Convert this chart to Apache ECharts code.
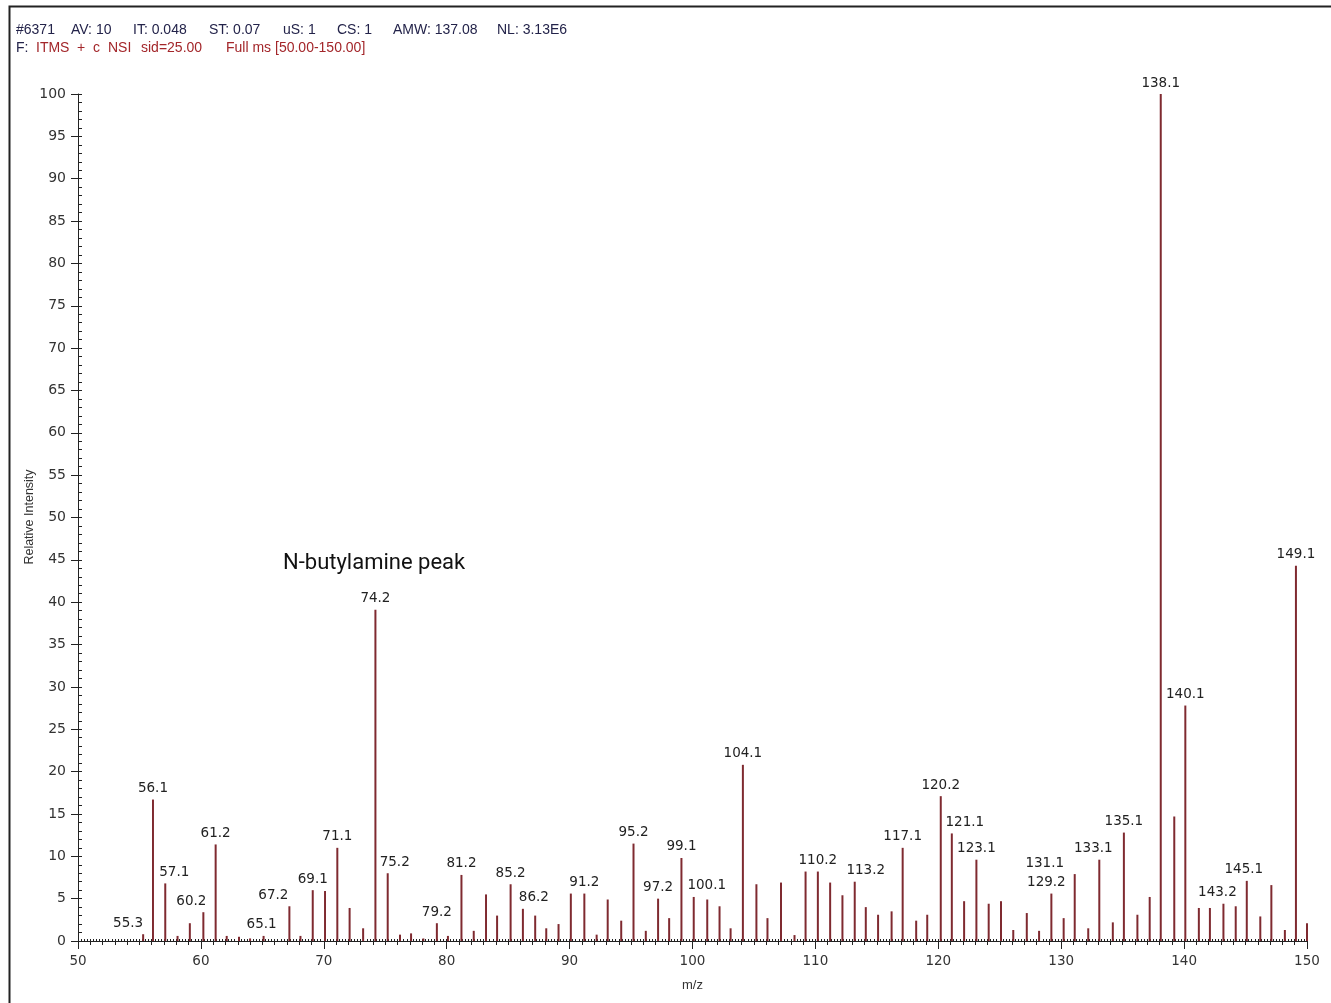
<!DOCTYPE html>
<html>
<head>
<meta charset="utf-8">
<script src="https://cdn.jsdelivr.net/npm/echarts@6/dist/echarts.min.js"></script>
<style>
html,body{margin:0;padding:0;background:#fff;}
#chart{width:1331px;height:1003px;}
</style>
</head>
<body>
<div id="chart"></div>
<script>
// ---- data ----
const mzValues = [
  55.3, 56.1, 57.1, 58.1, 59.1, 60.2, 61.2, 62.1, 63.1, 64.0, 65.1, 67.2, 68.1, 69.1, 70.1, 71.1, 72.1, 73.2, 74.2, 75.2,
  76.2, 77.1, 78.1, 79.2, 80.1, 81.2, 82.2, 83.2, 84.1, 85.2, 86.2, 87.2, 88.1, 89.1, 90.1, 91.2, 92.2, 93.1, 94.2, 95.2,
  96.2, 97.2, 98.1, 99.1, 100.1, 101.2, 102.2, 103.1, 104.1, 105.2, 106.1, 107.2, 108.3, 109.2, 110.2, 111.2, 112.2, 113.2, 114.1, 115.1,
  116.2, 117.1, 118.2, 119.1, 120.2, 121.1, 122.1, 123.1, 124.1, 125.1, 126.1, 127.2, 128.2, 129.2, 130.2, 131.1, 132.2, 133.1, 134.2, 135.1,
  136.2, 137.2, 138.1, 139.2, 140.1, 141.2, 142.1, 143.2, 144.2, 145.1, 146.2, 147.1, 148.2, 149.1, 150.0
];
const intensities = [
  0.8, 16.7, 6.8, 0.6, 2.1, 3.4, 11.4, 0.6, 0.5, 0.3, 0.6, 4.1, 0.6, 6.0, 5.9, 11.0, 3.9, 1.5, 39.1, 8.0,
  0.75, 0.9, 0.3, 2.1, 0.6, 7.8, 1.2, 5.5, 3.0, 6.7, 3.8, 3.0, 1.5, 2.0, 5.6, 5.6, 0.75, 4.9, 2.4, 11.5,
  1.2, 5.0, 2.7, 9.8, 5.2, 4.9, 4.1, 1.5, 20.8, 6.7, 2.7, 6.9, 0.7, 8.2, 8.2, 6.9, 5.4, 7.0, 4.0, 3.1,
  3.5, 11.0, 2.4, 3.1, 17.1, 12.7, 4.7, 9.6, 4.4, 4.7, 1.3, 3.3, 1.2, 5.6, 2.7, 7.9, 1.5, 9.6, 2.2, 12.8,
  3.1, 5.2, 100, 14.7, 27.8, 3.9, 3.9, 4.4, 4.1, 7.1, 2.9, 6.6, 1.3, 44.3, 2.1
];
const labeledPeaks = [
  55.3, 56.1, 57.1, 60.2, 61.2, 65.1, 67.2, 69.1, 71.1, 74.2, 75.2, 79.2, 81.2, 85.2, 86.2, 91.2, 95.2, 97.2, 99.1, 100.1,
  104.1, 110.2, 113.2, 117.1, 120.2, 121.1, 123.1, 129.2, 131.1, 133.1, 135.1, 138.1, 140.1, 143.2, 145.1, 149.1
];
const xTickLabels = [50, 60, 70, 80, 90, 100, 110, 120, 130, 140, 150];
const yTickLabels = [0, 5, 10, 15, 20, 25, 30, 35, 40, 45, 50, 55, 60, 65, 70, 75, 80, 85, 90, 95, 100];
const headerFields = ['#6371', 'AV: 10', 'IT: 0.048', 'ST: 0.07', 'uS: 1', 'CS: 1', 'AMW: 137.08', 'NL: 3.13E6'];
const filterPrefix = 'F:';
const filterWords = ['ITMS', '+', 'c', 'NSI', 'sid=25.00', 'Full ms [50.00-150.00]'];
const annotationText = 'N-butylamine peak';
const xAxisName = 'm/z';
const yAxisName = 'Relative Intensity';

// ---- label nudges (styling only, px) ----
const labelNudge = {
  '55.3': [-15, 0], '57.1': [9, 0], '60.2': [-12, 0], '65.1': [-2, 0], '67.2': [-16, 0],
  '75.2': [7, 0], '86.2': [11, 0], '100.1': [13, 0], '113.2': [11, 0], '121.1': [13, 0],
  '129.2': [-5, 0], '131.1': [-30, 0], '133.1': [-6, 0], '143.2': [-6, 0], '145.1': [-3, 0]
};

const barColor = '#7f2a30';
const axisColor = '#222';
const textColor = '#333';
const tickFont = 'DejaVu Sans';
const headFont = '14px "Liberation Sans", Arial, sans-serif';

const seriesData = mzValues.map(function (mz, i) {
  const item = { value: [mz, intensities[i]] };
  if (labeledPeaks.indexOf(mz) >= 0) {
    const key = mz.toFixed(1);
    item.label = {
      show: true,
      formatter: key,
      offset: labelNudge[key] || [0, 0]
    };
  }
  return item;
});

// layout positions for header pieces (px)
const headerX = [16, 71, 133, 209, 283, 337, 393, 497];
const headerGraphics = headerFields.map(function (t, i) {
  return {
    type: 'text', left: headerX[i], top: 23,
    style: { text: t, fill: '#23234a', font: headFont }
  };
});
const filterX = [36, 77, 93, 108, 141, 226];
const filterGraphics = [
  { type: 'text', left: 16, top: 41, style: { text: filterPrefix, fill: '#23234a', font: headFont } }
].concat(filterWords.map(function (w, i) {
  return { type: 'text', left: filterX[i], top: 41, style: { text: w, fill: '#a3262a', font: headFont } };
}));

const chart = echarts.init(document.getElementById('chart'), null, { renderer: 'canvas' });
chart.setOption({
  animation: false,
  backgroundColor: '#fff',
  grid: { left: 78, right: 24, top: 94, bottom: 62, containLabel: false },
  xAxis: [
    {
      type: 'value', min: 50, max: 150, interval: 10,
      axisLine: { show: true, lineStyle: { color: axisColor, width: 1 } },
      axisTick: { show: true, length: 8, lineStyle: { color: axisColor } },
      axisLabel: {
        margin: 13, fontSize: 13.5, fontFamily: tickFont, color: textColor,
        formatter: function (v) { return xTickLabels.indexOf(v) >= 0 ? String(v) : ''; }
      },
      splitLine: { show: false },
      name: xAxisName, nameLocation: 'middle', nameGap: 38,
      nameTextStyle: { fontSize: 13, fontFamily: 'Liberation Sans', color: textColor }
    },
    {
      type: 'value', min: 50, max: 150, interval: 1, position: 'bottom',
      axisLine: { show: false },
      axisTick: { show: true, length: 4, lineStyle: { color: axisColor } },
      axisLabel: { show: false }, splitLine: { show: false }
    },
    {
      type: 'value', min: 50, max: 150, interval: 0.25, position: 'bottom',
      axisLine: { show: false },
      axisTick: { show: true, inside: true, length: 2, lineStyle: { color: axisColor } },
      axisLabel: { show: false }, splitLine: { show: false }
    }
  ],
  yAxis: [
    {
      type: 'value', min: 0, max: 100, interval: 5,
      axisLine: { show: true, lineStyle: { color: axisColor, width: 1 } },
      axisTick: { show: true, length: 7, lineStyle: { color: axisColor } },
      axisLabel: {
        margin: 12, fontSize: 14, fontFamily: tickFont, color: textColor,
        formatter: function (v) { return yTickLabels.indexOf(v) >= 0 ? String(v) : ''; }
      },
      splitLine: { show: false }
    },
    {
      type: 'value', min: 0, max: 100, interval: 1, position: 'left',
      axisLine: { show: false },
      axisTick: { show: true, inside: true, length: 4, lineStyle: { color: axisColor } },
      axisLabel: { show: false }, splitLine: { show: false }
    }
  ],
  series: [
    {
      type: 'bar', xAxisIndex: 0, yAxisIndex: 0,
      barWidth: 2,
      itemStyle: { color: barColor },
      label: {
        show: false, position: 'top', distance: 4,
        fontSize: 13.5, fontFamily: tickFont, color: '#222'
      },
      data: seriesData
    }
  ],
  graphic: [
    {
      type: 'rect', left: 7, top: 4, silent: true,
      shape: { width: 1340, height: 1020 },
      style: { fill: 'none', stroke: '#222', lineWidth: 2 }
    },
    {
      type: 'text', x: 30, y: 517, rotation: Math.PI / 2, silent: true,
      style: {
        text: yAxisName, fill: textColor, align: 'center', verticalAlign: 'middle',
        font: '12.5px "Liberation Sans", Arial, sans-serif'
      }
    }
  ].concat(headerGraphics).concat(filterGraphics).concat([
    {
      type: 'text', left: 283, top: 552,
      style: { text: annotationText, fill: '#111', font: '22px Roboto, sans-serif' }
    }
  ])
});
</script>
</body>
</html>
